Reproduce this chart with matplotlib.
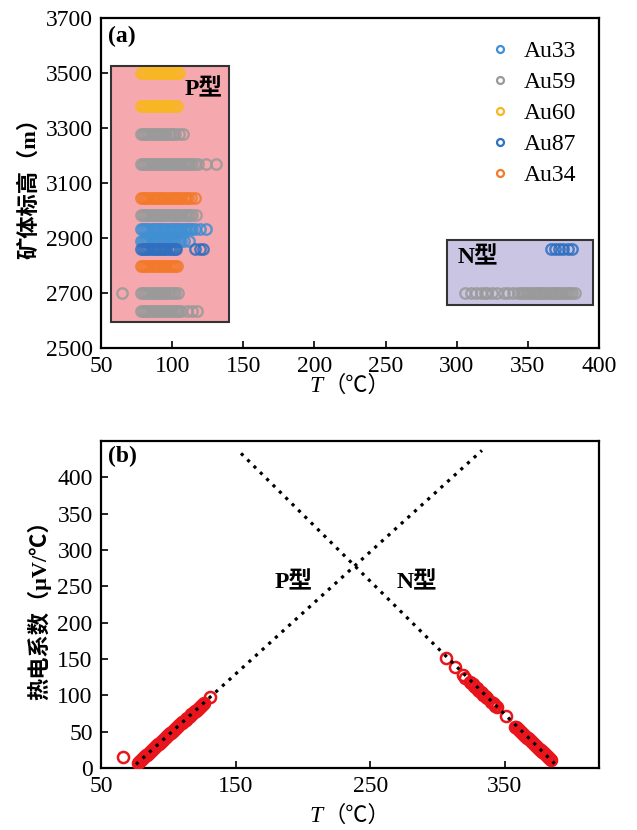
import matplotlib
matplotlib.use("Agg")
import matplotlib.pyplot as plt
from matplotlib.patches import Rectangle
from matplotlib.offsetbox import TextArea, HPacker, AnchoredOffsetbox

plt.rcParams['font.family'] = ['Liberation Serif', 'Noto Sans CJK SC']

# ---------------- data: panel (a) ----------------
series_names = ['Au33', 'Au59', 'Au60', 'Au87', 'Au34']
series_colors = ['#3f8fd4', '#9a9a9a', '#f8b722', '#2f6fc0', '#f27a2a']

# rows: (series, elevation, temperatures)
dense_a = [78, 79.5, 81, 82.5, 84, 85.5, 87, 88.5, 90, 91.5, 93, 94.5, 96, 97.5, 99, 100.5, 102]
rows_series = ['Au60', 'Au60', 'Au59', 'Au59', 'Au34', 'Au59', 'Au33', 'Au33', 'Au87', 'Au34', 'Au59', 'Au59',
               'Au87', 'Au59']
rows_elev = [3500, 3380, 3280, 3170, 3045, 2985, 2933, 2890, 2860, 2800, 2700, 2635, 2860, 2700]
rows_T = [
    dense_a + [103.5, 105],
    dense_a + [103.5],
    dense_a + [104.8, 107.5],
    dense_a + [103.5, 105, 106.5, 108, 109.5, 111, 112.5, 114, 116, 118.4, 123.8, 130.8],
    dense_a + [103.5, 105, 106.5, 108, 109.5, 111, 113, 116],
    dense_a + [103.5, 105, 106.5, 108, 109.5, 111, 112.5, 114, 117],
    dense_a + [103.5, 105, 106.5, 108, 109.5, 111, 112.5, 114, 116, 119.6, 123.8],
    dense_a + [103.5, 105, 106.5, 108, 112],
    dense_a + [103, 116, 119.6, 122],
    dense_a + [103.4],
    [64.5] + dense_a + [104],
    dense_a + [103.5, 105, 106, 110.4, 113.7, 117.2],
    # N-type rows
    [366, 369, 372, 375, 378, 381],
    [306, 310, 313.5, 317, 320, 321.5, 325, 328, 333, 336, 339.5, 343, 345, 346.5, 348, 349.5, 351, 352.5,
     354, 355.5, 357, 358.5, 360, 361.5, 363, 364.5, 366, 367.5, 369, 370.5, 372, 373.5, 375, 376.5, 378,
     379.5, 381, 383],
]

# ---------------- data: panel (b) ----------------
p_T = [66, 77.5, 78.2, 79.0, 79.8, 80.5, 81.2, 82.0, 82.8, 83.5, 84.2, 85.0, 85.8, 86.5, 87.2, 88.0, 88.8,
       89.5, 90.2, 91.0, 91.8, 92.5, 93.2, 94.0, 94.8, 95.5, 96.2, 97.0, 97.8, 98.5, 99.2, 100.0, 100.8,
       101.5, 102.2, 103.0, 103.8, 104.5, 105.2, 106.0, 106.8, 107.5, 108.2, 109.0, 109.8, 110.5, 111.2,
       112.0, 112.8, 113.5, 114.2, 115.0, 115.8, 116.5, 117.2, 118.0, 118.8, 119.5, 120.2, 121.0, 121.8,
       122.5, 123.2, 124.0, 124.8, 125.5, 126.2, 131]
p_S = [15, 7.2, 8.4, 9.7, 11.1, 12.3, 13.4, 14.8, 16.1, 17.3, 18.5, 19.8, 21.2, 22.3, 23.5, 24.9, 26.2,
       27.4, 28.6, 29.9, 31.2, 32.4, 33.6, 34.9, 36.3, 37.5, 38.6, 40.0, 41.3, 42.5, 43.7, 45.0, 46.4,
       47.5, 48.7, 50.1, 51.4, 52.6, 53.8, 55.1, 56.4, 57.6, 58.8, 60.1, 61.5, 62.7, 63.8,
       65.2, 66.5, 67.7, 68.9, 70.2, 71.6, 72.7, 73.9, 75.3, 76.6, 77.8, 79.0, 80.3, 81.6,
       82.8, 84.0, 85.3, 86.7, 87.9, 89.0, 97.1]
n_T = [306.3, 313, 319.2, 320.4, 324, 325, 326, 327, 328, 329, 330, 331, 332, 333, 334, 335, 336, 337,
       340, 341, 342, 343, 344.5, 350.8,
       357.5, 358.2, 359.0, 359.8, 360.5, 361.2, 362.0, 362.8, 363.5, 364.2, 365.0, 365.8, 366.5, 367.2,
       368.0, 368.8, 369.5, 370.2, 371.0, 371.8, 372.5, 373.2, 374.0, 374.8, 375.5, 376.2, 377.0, 377.8,
       378.5, 379.2, 380.0, 380.8, 381.5, 382.2, 383.0, 383.8, 384.5]
n_S = [151, 139.5, 128, 124, 119, 117, 115.5, 113.5, 112, 110, 108, 106.5, 105, 103, 101, 99.5, 98, 96.5,
       91, 89.5, 88, 86, 84.5, 71,
       57, 55.8, 54.5, 53.1, 51.9, 50.8, 49.4, 48.1, 46.9, 45.7, 44.4, 43.0, 41.8, 40.7,
       39.3, 38.0, 36.8, 35.6, 34.2, 32.9, 31.7, 30.5, 29.2, 27.8, 26.6, 25.4, 24.1, 22.7,
       21.5, 20.3, 19.0, 17.6, 16.4, 15.3, 13.9, 12.6, 11.4]
p_line_T = [76, 333]
p_line_S = [5, 437]
n_line_T = [154, 387]
n_line_S = [433, 6]

FS = 17

fig = plt.figure(figsize=(6.37, 8.30), dpi=100)
ax1 = fig.add_axes([0.1586, 0.5807, 0.7818, 0.3976])
ax2 = fig.add_axes([0.1586, 0.0747, 0.7818, 0.3940])


def style_axes(ax):
    for sp in ax.spines.values():
        sp.set_linewidth(1.6)
        sp.set_color('black')
    ax.tick_params(direction='in', length=5, width=1.2, labelsize=FS, top=False, right=False, pad=6)


def add_xlabel(ax, y):
    t1 = TextArea('T', textprops=dict(family='Liberation Serif', style='italic', size=FS))
    t2 = TextArea('（℃）', textprops=dict(family=['Liberation Serif', 'Noto Sans CJK SC'], size=FS - 1))
    box = HPacker(children=[t1, t2], align='baseline', pad=0, sep=1)
    ab = AnchoredOffsetbox(loc='upper center', child=box, pad=0, borderpad=0, frameon=False,
                           bbox_to_anchor=(0.5, y), bbox_transform=ax.transAxes)
    ax.add_artist(ab)


# ---------------- panel (a) ----------------
style_axes(ax1)
ax1.add_patch(Rectangle((57, 2596), 83, 930, facecolor='#f5a8ad', edgecolor='#333333', linewidth=1.5, zorder=1))
ax1.add_patch(Rectangle((293, 2656), 103, 237, facecolor='#c9c5e3', edgecolor='#333333', linewidth=1.5, zorder=1))

color_of = dict(zip(series_names, series_colors))
for s, e, ts in zip(rows_series, rows_elev, rows_T):
    ax1.plot(ts, [e] * len(ts), linestyle='none', marker='o', markersize=7.5, markerfacecolor='none',
             markeredgecolor=color_of[s], markeredgewidth=1.7, alpha=0.85, zorder=3)

handles = [ax1.plot([], [], linestyle='none', marker='o', markersize=5, markerfacecolor='none',
                    markeredgecolor=c, markeredgewidth=1.6)[0] for c in series_colors]
ax1.legend(handles, series_names, loc='upper right', frameon=False, fontsize=FS, handletextpad=0.4,
           labelspacing=0.4, borderaxespad=0.55, handlelength=1.2)

ax1.text(122, 3438, 'P型', fontsize=FS, fontweight='bold', ha='center', va='center', zorder=4)
ax1.text(315, 2827, 'N型', fontsize=FS, fontweight='bold', ha='center', va='center', zorder=4)
ax1.text(0.015, 0.975, '(a)', transform=ax1.transAxes, fontsize=FS, fontweight='bold', ha='left', va='top')

ax1.set_xlim(50, 400)
ax1.set_ylim(2500, 3700)
ax1.set_xticks([50, 100, 150, 200, 250, 300, 350, 400])
ax1.set_yticks([2500, 2700, 2900, 3100, 3300, 3500, 3700])
ax1.set_ylabel('矿体标高（m）', fontsize=FS - 1, fontweight='bold', labelpad=4)
add_xlabel(ax1, -0.085)

# ---------------- panel (b) ----------------
style_axes(ax2)
ax2.plot(p_T, p_S, linestyle='none', marker='o', markersize=8, markerfacecolor='none',
         markeredgecolor='#e8161c', markeredgewidth=1.8, zorder=3)
ax2.plot(n_T, n_S, linestyle='none', marker='o', markersize=8, markerfacecolor='none',
         markeredgecolor='#e8161c', markeredgewidth=1.8, zorder=3)
ax2.plot(p_line_T, p_line_S, linestyle=(0, (1, 1.8)), color='black', linewidth=2.3, zorder=4)
ax2.plot(n_line_T, n_line_S, linestyle=(0, (1, 1.8)), color='black', linewidth=2.3, zorder=4)
ax2.text(193, 255, 'P型', fontsize=FS, fontweight='bold', ha='center', va='center')
ax2.text(284.5, 255, 'N型', fontsize=FS, fontweight='bold', ha='center', va='center')
ax2.text(0.015, 0.985, '(b)', transform=ax2.transAxes, fontsize=FS, fontweight='bold', ha='left', va='top')

ax2.set_xlim(50, 420)
ax2.set_ylim(0, 450)
ax2.set_xticks([50, 150, 250, 350])
ax2.set_yticks([0, 50, 100, 150, 200, 250, 300, 350, 400])
ax2.set_ylabel('热电系数（μV/℃）', fontsize=FS - 1, fontweight='bold', labelpad=4)
add_xlabel(ax2, -0.115)

fig.savefig('out.png', dpi=100)
